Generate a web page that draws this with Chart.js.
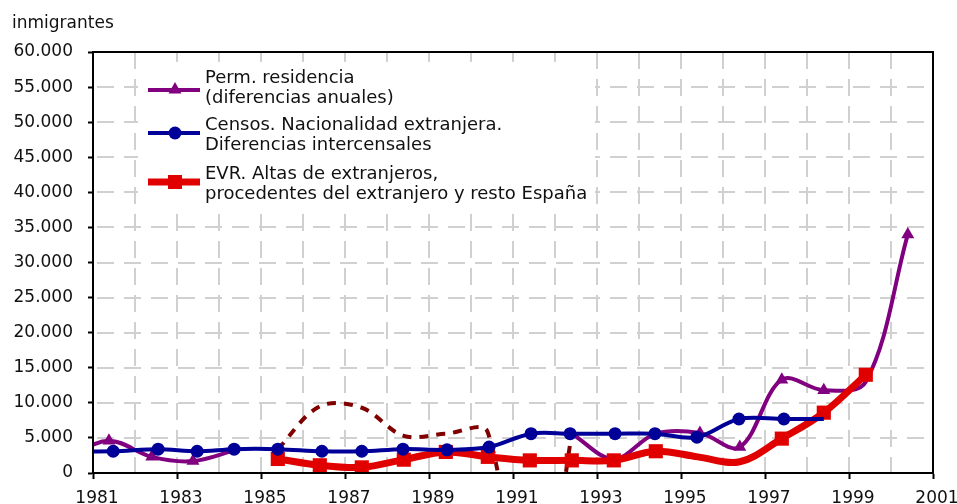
<!DOCTYPE html>
<html>
<head>
<meta charset="utf-8">
<title>Inmigrantes</title>
<script src="https://cdn.jsdelivr.net/npm/chart.js@4.4.1/dist/chart.umd.min.js"></script>
<style>
    html, body { margin: 0; padding: 0; background: #ffffff; }
    #wrap { width: 957px; height: 504px; }
</style>
</head>
<body>
<div id="wrap"><canvas id="inmigChart" width="957" height="504"></canvas></div>
<script>
// --- PART 1: THE DATA ---
// x values are years (markers sit a bit after the tick, like the original)
const tickYears = [1981, 1983, 1985, 1987, 1989, 1991, 1993, 1995, 1997, 1999, 2001];
const tickValues = [0, 5000, 10000, 15000, 20000, 25000, 30000, 35000, 40000, 45000, 50000, 55000, 60000];

// Perm. residencia (diferencias anuales)
const permYears  = [1980.4, 1981.38, 1982.4, 1983.38, 1984.4, 1988, 1992.4, 1993.4, 1994.4, 1995.45, 1996.4, 1997.4, 1998.4, 1999.4, 2000.4];
const permValues = [2200, 4600, 2300, 1700, 3300, null, 5600, 2000, 5600, 5700, 3700, 13300, 11800, 13000, 34000];

// Same source, dashed stretch (no legend entry)
const dashYears  = [1985.4, 1986.4, 1987.4, 1988.4, 1989.4, 1990.4, 1991.4, 1992.4];
const dashValues = [3400, 9500, 9300, 5300, 5600, 5800, -30000, 5600];

// Censos. Nacionalidad extranjera
const censoYears  = [1980.4, 1981.48, 1982.55, 1983.48, 1984.36, 1985.4, 1986.45, 1987.4, 1988.38, 1989.43, 1990.43, 1991.43, 1992.36, 1993.43, 1994.38, 1995.38, 1996.38, 1997.45, 1998.4];
const censoValues = [3100, 3100, 3400, 3100, 3400, 3400, 3100, 3100, 3400, 3300, 3700, 5600, 5600, 5600, 5600, 5100, 7700, 7700, 7700];

// EVR. Altas de extranjeros
const evrYears  = [1985.4, 1986.4, 1987.4, 1988.4, 1989.4, 1990.4, 1991.4, 1992.4, 1993.4, 1994.4, 1995.4, 1996.4, 1997.4, 1998.4, 1999.4];
const evrValues = [2000, 1100, 800, 1900, 3000, 2300, 1800, 1800, 1800, 3100, 2300, 1600, 4900, 8600, 14000];

const legendLabels = [
    ['Perm. residencia', '(diferencias anuales)'],
    ['Censos. Nacionalidad extranjera.', 'Diferencias intercensales'],
    ['EVR. Altas de extranjeros,', 'procedentes del extranjero y resto España']
];

// --- PART 2: HELPERS ---
function toPoints(xs, ys) {
    return xs.map((x, i) => ({ x: x, y: ys[i] }));
}

// 60000 -> "60.000"
function formatThousands(v) {
    return String(v).replace(/\B(?=(\d{3})+(?!\d))/g, '.');
}

// markers that are hidden behind other marks in the original
const permNoMarker  = [0, 4, 6, 7, 8, 13];
const censoNoMarker = [0, 18];
const evrNoMarker   = [10, 11];

const FONT = '"DejaVu Sans", Verdana, sans-serif';
const PURPLE = '#800080';
const BLUE = '#000099';
const RED = '#e00000';
const DARKRED = '#800000';
const GRID = '#d0d0d0';

// --- PART 3: GRID (dashed, drawn under the lines) ---
const gridPlugin = {
    id: 'dashGrid',
    beforeDatasetsDraw(chart) {
        const ctx = chart.ctx;
        const a = chart.chartArea;
        const xs = chart.scales.x;
        const ys = chart.scales.y;
        ctx.save();
        ctx.strokeStyle = GRID;
        ctx.lineWidth = 2;
        ctx.setLineDash([17, 10]);

        // horizontal lines every 5.000
        ctx.lineDashOffset = 23;
        tickValues.slice(1, -1).forEach(v => {
            const py = Math.round(ys.getPixelForValue(v));
            ctx.beginPath();
            ctx.moveTo(a.left, py);
            ctx.lineTo(a.right, py);
            ctx.stroke();
        });

        // vertical lines every year
        ctx.lineDashOffset = 0;
        for (let yr = xs.min + 1; yr < xs.max; yr++) {
            const px = Math.round(xs.getPixelForValue(yr));
            ctx.beginPath();
            ctx.moveTo(px, a.top);
            ctx.lineTo(px, a.bottom);
            ctx.stroke();
        }
        ctx.restore();
    }
};

// --- PART 4: TITLE, LEGEND BOX AND FRAME ---
const decorPlugin = {
    id: 'decor',
    afterDraw(chart) {
        const ctx = chart.ctx;
        const a = chart.chartArea;
        ctx.save();

        // frame round the plot
        ctx.strokeStyle = '#000';
        ctx.lineWidth = 2;
        ctx.strokeRect(a.left, a.top, a.right - a.left, a.bottom - a.top);

        // unit label top-left
        ctx.fillStyle = '#111';
        ctx.font = '17px ' + FONT;
        ctx.textBaseline = 'alphabetic';
        ctx.textAlign = 'left';
        ctx.fillText('inmigrantes', 12, 28);

        // legend (white box inside plot)
        ctx.fillStyle = '#ffffff';
        ctx.fillRect(138, 62, 457, 144);

        const rows = [
            { color: PURPLE, width: 4, shape: 'triangle', lineY: 90, base: 83 },
            { color: BLUE, width: 4, shape: 'circle', lineY: 133, base: 130 },
            { color: RED, width: 7, shape: 'rect', lineY: 182, base: 179 }
        ];
        rows.forEach((r, i) => {
            ctx.strokeStyle = r.color;
            ctx.fillStyle = r.color;
            ctx.lineWidth = r.width;
            ctx.beginPath();
            ctx.moveTo(148, r.lineY);
            ctx.lineTo(200, r.lineY);
            ctx.stroke();

            ctx.beginPath();
            if (r.shape === 'triangle') {
                ctx.moveTo(175, r.lineY - 8);
                ctx.lineTo(181.5, r.lineY + 3.5);
                ctx.lineTo(168.5, r.lineY + 3.5);
                ctx.closePath();
            } else if (r.shape === 'circle') {
                ctx.arc(175, r.lineY, 6.5, 0, Math.PI * 2);
            } else {
                ctx.rect(168, r.lineY - 7, 14, 14);
            }
            ctx.fill();

            ctx.fillStyle = '#111';
            ctx.font = '18px ' + FONT;
            ctx.fillText(legendLabels[i][0], 205, r.base);
            ctx.fillText(legendLabels[i][1], 205, r.base + 20);
        });

        ctx.restore();
    }
};

// --- PART 5: THE CHART ---
const ctx = document.getElementById('inmigChart');
if (ctx) {
    new Chart(ctx, {
        type: 'line',
        data: {
            datasets: [
                {
                    label: 'Censos',
                    data: toPoints(censoYears, censoValues),
                    borderColor: BLUE,
                    backgroundColor: BLUE,
                    borderWidth: 4,
                    tension: 0.35,
                    pointStyle: 'circle',
                    pointRadius: c => censoNoMarker.includes(c.dataIndex) ? 0 : 6.5,
                    pointBorderWidth: 0,
                    clip: 0
                },
                {
                    label: 'EVR',
                    data: toPoints(evrYears, evrValues),
                    borderColor: RED,
                    backgroundColor: RED,
                    borderWidth: 7,
                    tension: 0.35,
                    pointStyle: 'rect',
                    pointRadius: c => evrNoMarker.includes(c.dataIndex) ? 0 : 10,
                    pointBorderWidth: 0,
                    clip: 0
                },
                {
                    label: 'Perm. residencia',
                    data: toPoints(permYears, permValues),
                    borderColor: PURPLE,
                    backgroundColor: PURPLE,
                    borderWidth: 4,
                    tension: 0.35,
                    spanGaps: false,
                    pointStyle: 'triangle',
                    pointRadius: c => permNoMarker.includes(c.dataIndex) ? 0 : 7.5,
                    pointBorderWidth: 0,
                    clip: 0
                },
                {
                    label: 'Perm. residencia (tramo)',
                    data: toPoints(dashYears, dashValues),
                    borderColor: DARKRED,
                    borderWidth: 4,
                    borderDash: [9, 8],
                    tension: 0.35,
                    pointRadius: 0,
                    clip: 0
                }
            ]
        },
        options: {
            responsive: false,
            animation: false,
            events: [],
            layout: { padding: { top: 52, right: 24, left: 0, bottom: 0 } },
            plugins: {
                legend: { display: false },
                tooltip: { enabled: false },
                title: { display: false }
            },
            scales: {
                x: {
                    type: 'linear',
                    min: 1981,
                    max: 2001,
                    // keep the plot box fixed; the last label may hang over the edge
                    afterFit: s => { s.height = 31; s.paddingLeft = 0; s.paddingRight = 0; },
                    ticks: {
                        stepSize: 1,
                        autoSkip: false,
                        maxRotation: 0,
                        padding: 9,
                        labelOffset: 4,
                        color: '#111',
                        font: { family: FONT, size: 17 },
                        callback: v => tickYears.includes(v) ? String(v) : ''
                    },
                    grid: {
                        drawOnChartArea: false,
                        tickLength: 6,
                        tickWidth: 2,
                        tickColor: c => (c.tick && tickYears.includes(c.tick.value)) ? '#000' : 'rgba(0,0,0,0)'
                    },
                    border: { display: true, color: '#000', width: 2 }
                },
                y: {
                    min: 0,
                    max: 60000,
                    afterFit: s => { s.width = 93; },
                    afterBuildTicks: s => { s.ticks = tickValues.map(v => ({ value: v })); },
                    ticks: {
                        padding: 15,
                        color: '#111',
                        font: { family: FONT, size: 17 },
                        callback: v => formatThousands(v)
                    },
                    grid: {
                        drawOnChartArea: false,
                        tickLength: 5,
                        tickWidth: 2,
                        tickColor: '#000'
                    },
                    border: { display: true, color: '#000', width: 2 }
                }
            }
        },
        plugins: [gridPlugin, decorPlugin]
    });
}
</script>
</body>
</html>
